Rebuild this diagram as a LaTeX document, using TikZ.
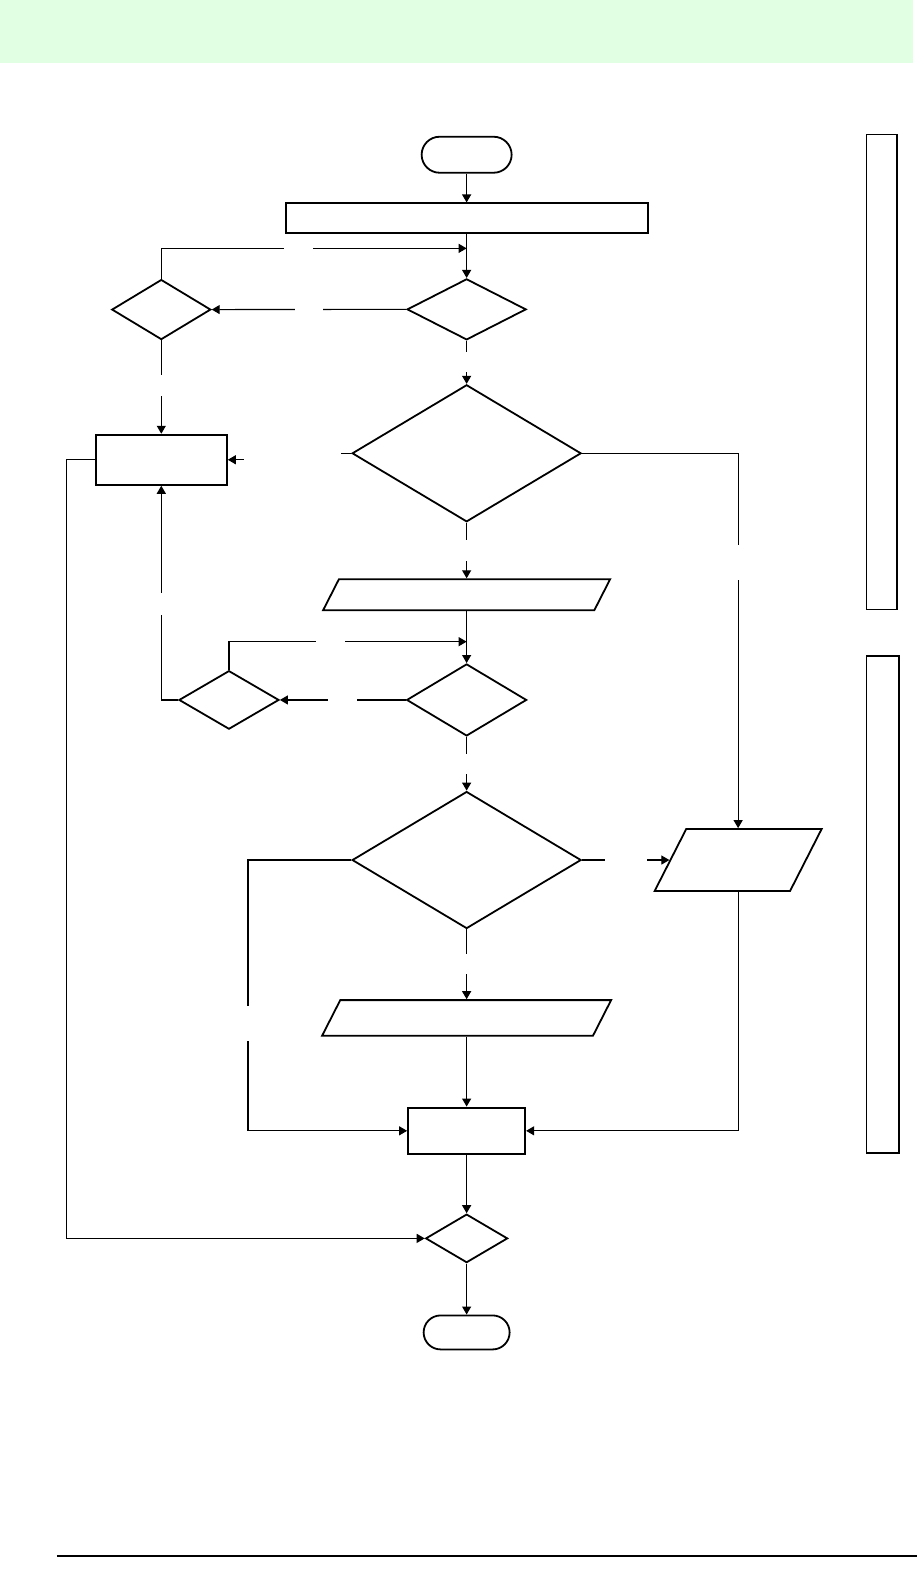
\documentclass[tikz,border=0pt]{standalone}
\usepackage{tikz}
\usetikzlibrary{shapes.geometric, arrows.meta, positioning, calc}
\usepackage{xcolor}
\definecolor{bannergreen}{RGB}{225,255,226}
\definecolor{flowblack}{RGB}{0,0,0}
\tikzstyle{terminal} = [rectangle, rounded corners=17pt, draw=flowblack, line width=1.8pt, fill=white, inner sep=0pt]
\tikzstyle{process} = [rectangle, draw=flowblack, line width=2pt, fill=white, inner sep=0pt]
\tikzstyle{decision} = [diamond, draw=flowblack, line width=1.8pt, fill=white, inner sep=0pt]
\tikzstyle{inout} = [trapezium, trapezium left angle=63, trapezium right angle=117, trapezium stretches body=true, draw=flowblack, line width=1.8pt, fill=white, inner xsep=1pt]
\tikzstyle{arrow} = [line width=1.1pt, -{Triangle[length=8pt,width=9pt]}, flowblack]
\tikzstyle{gaplabel} = [fill=white, inner sep=0pt, minimum width=6pt, minimum height=6pt]
\tikzstyle{panel} = [line width=1.4pt, flowblack]

\begin{document}
\begin{tikzpicture}[x=1.01pt, y=-1.01pt]
\useasboundingbox (0,0) rectangle (909.9,1567.3);
\fill[bannergreen] (0,0) rectangle (904,62);

% main column
\node[terminal, minimum width=90pt, minimum height=36pt, rounded corners=18pt] (start) at (462,153.2) {};
\node[process, minimum width=362pt, minimum height=30pt] (setup) at (462,216.3) {};
\node[decision, minimum width=119pt, minimum height=61pt] (firstcheck) at (462,306.3) {};
\node[decision, minimum width=99pt, minimum height=60pt] (retrycheck) at (159.7,306.5) {};
\node[decision, minimum width=229pt, minimum height=137pt] (bigcheck) at (462,448.8) {};
\node[process, minimum width=131pt, minimum height=50pt] (handler) at (159.7,455.2) {};
\node[inout, minimum width=287pt, inner ysep=15.5pt] (readone) at (462,588.8) {};
\node[decision, minimum width=120pt, minimum height=72pt] (secondcheck) at (462,693) {};
\node[decision, minimum width=100pt, minimum height=58.5pt] (loopcheck) at (226.7,693) {};
\node[decision, minimum width=229pt, minimum height=137pt] (mergecheck) at (462,851.5) {};
\node[inout, minimum width=167pt, inner ysep=31pt] (sideout) at (730.8,851.5) {};
\node[inout, minimum width=289pt, inner ysep=17.8pt] (readtwo) at (462,1007.8) {};
\node[process, minimum width=117pt, minimum height=46.5pt] (collect) at (462,1119.6) {};
\node[decision, minimum width=82pt, minimum height=48.5pt] (lastcheck) at (462,1226.1) {};
\node[terminal, minimum width=86pt, minimum height=34pt] (stop) at (462,1319.2) {};

\coordinate (loopin) at (firstcheck.north |- 0,245.9);
\coordinate (loopintwo) at (secondcheck.north |- 0,635.3);

% connectors
\draw[arrow] (start) -- (setup);
\draw[arrow] (setup) -- (firstcheck);
\draw[arrow] (retrycheck.north) |- node[gaplabel, pos=0.724, minimum width=29pt]{} (loopin);
\draw[arrow] (firstcheck.west) -- node[gaplabel, minimum width=28pt]{} (retrycheck.east);
\draw[arrow] (firstcheck) -- node[gaplabel, minimum height=20pt]{} (bigcheck);
\draw[arrow] (retrycheck) -- node[gaplabel, pos=0.48, minimum height=21pt]{} (handler);
\draw[arrow] (bigcheck.west) -- ++(-48,0) |- (handler.east);
\node[gaplabel, minimum width=97pt, minimum height=18pt] at (290,452) {};
\draw[arrow] (bigcheck.east) -| node[gaplabel, pos=0.646, minimum height=35pt]{} (sideout.north);
\draw[arrow] (bigcheck) -- node[gaplabel, minimum height=21pt]{} (readone);
\draw[arrow] (readone) -- (secondcheck);
\draw[arrow] (loopcheck.north) |- node[gaplabel, pos=0.713, minimum width=29pt]{} (loopintwo);
\draw[arrow] (secondcheck.west) -- node[gaplabel, minimum width=29pt]{} (loopcheck.east);
\draw[arrow] (loopcheck.west) -| node[gaplabel, pos=0.725, minimum height=22pt]{} (handler.south);
\draw[arrow] (secondcheck) -- node[gaplabel, minimum height=20pt]{} (mergecheck);
\draw[arrow] (mergecheck.east) -- node[gaplabel, minimum width=42pt]{} (sideout.west);
\draw[arrow] (mergecheck) -- node[gaplabel, minimum height=20pt]{} (readtwo);
\draw[arrow] (readtwo) -- (collect);
\draw[arrow] (mergecheck.west) -- ++(-102.2,0) |- node[gaplabel, pos=0.301, minimum height=35pt]{} (collect.west);
\draw[arrow] (sideout.south) |- (collect.east);
\draw[arrow] (collect) -- (lastcheck);
\draw[arrow] (handler.west) -- ++(-28,0) |- (lastcheck.west);
\draw[arrow] (lastcheck) -- (stop);

% side panels and footer rule
\draw[panel] (858,133.3) rectangle (888,603.5);
\draw[panel] (858,649.4) rectangle (890,1141.6);
\draw[line width=1.3pt] (56.3,1540.6) -- (908,1540.6);
\end{tikzpicture}
\end{document}
